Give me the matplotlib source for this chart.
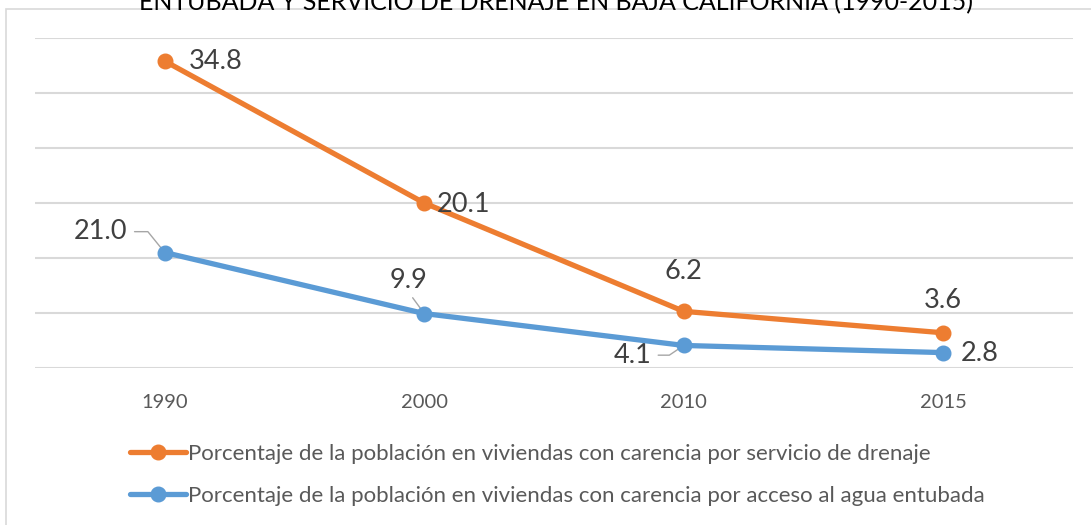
import matplotlib.pyplot as plt
import numpy as np
from matplotlib.patches import Rectangle

plt.rcParams["font.family"] = ["Lato", "DejaVu Sans"]

# data (stacked lines)
years = ["1990", "2000", "2010", "2015"]
drenaje = [34.8, 20.1, 6.2, 3.6]
agua = [21.0, 9.9, 4.1, 2.8]

label_drenaje = "Porcentaje de la población en viviendas con carencia por servicio de drenaje"
label_agua = "Porcentaje de la población en viviendas con carencia por acceso al agua entubada"
title = ("PORCENTAJE DE LA POBLACIÓN EN VIVIENDAS CON CARENCIA POR ACCESO AL AGUA\n"
         "ENTUBADA Y SERVICIO DE DRENAJE EN BAJA CALIFORNIA (1990-2015)")

orange = "#ED7D31"
blue = "#5B9BD5"
grid_c = "#D9D9D9"
txt_c = "#404040"
tick_c = "#595959"

W, H = 1091, 525
fig = plt.figure(figsize=(W / 100, H / 100), dpi=100)
fig.patches.append(Rectangle((6 / W, -0.1), 1.2, 1 - 9 / H + 0.1, transform=fig.transFigure,
                             fill=False, edgecolor=grid_c, linewidth=1.2))

ax = fig.add_axes([35 / W, 1 - 368 / H, (1073 - 35) / W, (368 - 38) / H])

x = np.arange(len(years))
agua_arr = np.array(agua)
stacked = agua_arr + np.array(drenaje)

ax.plot(x, stacked, color=orange, lw=3.8, marker="o", ms=10.5, label=label_drenaje, zorder=3,
        solid_capstyle="round")
ax.plot(x, agua_arr, color=blue, lw=3.8, marker="o", ms=10.5, label=label_agua, zorder=3,
        solid_capstyle="round")

ax.set_xlim(-0.5, len(years) - 0.5)
ax.set_ylim(0, 60)
ax.set_yticks(np.arange(0, 61, 10))
ax.set_yticklabels([])
ax.yaxis.grid(True, color=grid_c, lw=1.5)
ax.set_axisbelow(True)
ax.tick_params(axis="y", length=0)
ax.tick_params(axis="x", length=0, pad=19, labelsize=14.5, labelcolor=tick_c)
ax.set_xticks(x)
ax.set_xticklabels(years)
for s in ax.spines.values():
    s.set_visible(False)

# data labels, offsets in points
fs = 19.5
lab_off_d = [(37, 0), (28, -1), (0, 29), (0, 23)]
for i, v in enumerate(drenaje):
    ax.annotate(f"{v:.1f}", (x[i], stacked[i]), xytext=lab_off_d[i], textcoords="offset points",
                ha="center", va="center", fontsize=fs, color=txt_c, zorder=4)

gray = "#A6A6A6"
ax.annotate(f"{agua[0]:.1f}", (x[0], agua[0]), xytext=(-46, 15), textcoords="offset points",
            ha="center", va="center", fontsize=fs, color=txt_c, zorder=2,
            arrowprops=dict(arrowstyle="-", color=gray, lw=1, shrinkA=3, shrinkB=4,
                            relpos=(1, 0.5), connectionstyle="angle,angleA=0,angleB=-51,rad=0"))
ax.annotate(f"{agua[1]:.1f}", (x[1], agua[1]), xytext=(-11, 24), textcoords="offset points",
            ha="center", va="center", fontsize=fs, color=txt_c, zorder=2,
            arrowprops=dict(arrowstyle="-", color=gray, lw=1, shrinkA=2, shrinkB=4,
                            relpos=(0.5, 0)))
ax.annotate(f"{agua[2]:.1f}", (x[2], agua[2]), xytext=(-37, -7), textcoords="offset points",
            ha="center", va="center", fontsize=fs, color=txt_c, zorder=2,
            arrowprops=dict(arrowstyle="-", color=gray, lw=1, shrinkA=3, shrinkB=4,
                            relpos=(1, 0.5), connectionstyle="angle,angleA=0,angleB=34,rad=0"))
ax.annotate(f"{agua[3]:.1f}", (x[3], agua[3]), xytext=(26, -1), textcoords="offset points",
            ha="center", va="center", fontsize=fs, color=txt_c, zorder=4)

fig.text(556 / W, 1 - 14 / H, title, ha="center", va="bottom", fontsize=18, color="#000000",
         linespacing=1.2)

fig.legend(loc="upper left", bbox_to_anchor=(130 / W, 1 - 444 / H), frameon=False,
           fontsize=16, labelcolor=tick_c, handlelength=2.5, handletextpad=0.1,
           labelspacing=1.0, borderpad=0, borderaxespad=0)

fig.savefig("out.png", dpi=100)
